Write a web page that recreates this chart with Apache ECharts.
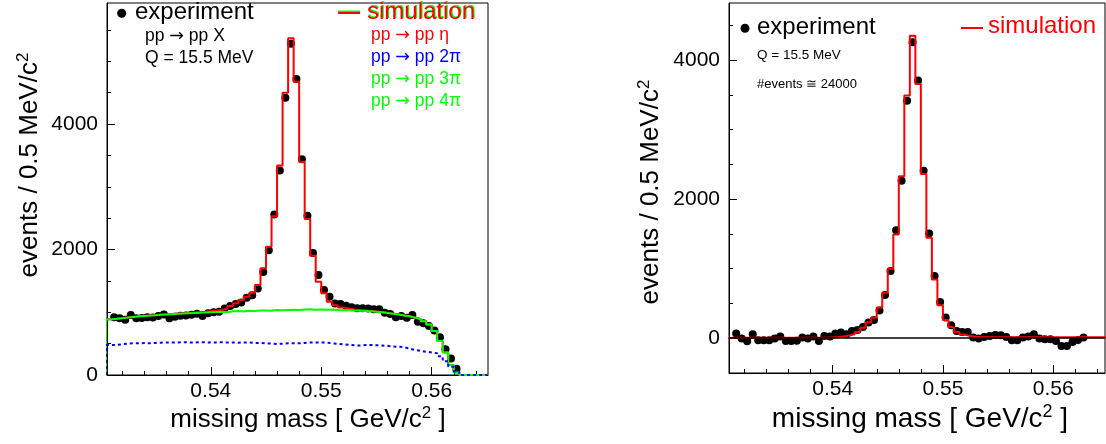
<!DOCTYPE html>
<html><head><meta charset="utf-8">
<script src="https://cdn.jsdelivr.net/npm/echarts@6/dist/echarts.min.js"></script>
<style>html,body{margin:0;padding:0;background:#fff}#c{width:1106px;height:444px}</style>
</head><body><div id="c"></div><script>
// ---- data (bins of 0.5 MeV; first bin left edge 0.5305 GeV) ----
const BIN_START = 0.5305;
const BIN_W = 0.0005;
const xTicksMajor = [0.54, 0.55, 0.56];
const xTicksMinor = [0.532,0.534,0.536,0.538,0.542,0.544,0.546,0.548,0.552,0.554,0.556,0.558,0.562,0.564];
const yTicksMajor = [0, 2000, 4000];
const yTicksMinorLeft = [500,1000,1500,2500,3000,3500,4500,5000,5500];
const yTicksMinorRight = [-500,500,1000,1500,2500,3000,3500,4500];

const leftExperiment = [null,920,905,880,955,905,910,920,915,940,965,905,930,945,950,960,975,940,985,1000,1010,1060,1100,1130,1155,1230,1270,1380,1640,1990,2560,3260,4420,5280,4720,3440,2540,1945,1594,1355,1248,1140,1130,1105,1080,1063,1063,1060,1047,1047,993,972,920,940,913,956,850,824,781,710,600,409,263,100,null,null,null,null,null];
const leftSimTotal = [888,897,907,917,927,937,944,950,956,963,968,974,980,986,992,998,1003,1009,1016,1025,1040,1055,1100,1145,1195,1248,1312,1435,1700,2045,2530,3340,4500,5367,4675,3395,2485,1900,1488,1302,1169,1110,1075,1062,1045,1036,1029,1022,1013,1004,993,980,967,952,937,917,892,857,806,701,541,361,161,41,0,0,0,0,0];
const leftSimMultiPi = [886,895,905,915,925,935,942,948,953,960,965,970,975,980,985,990,993,996,1000,1003,1008,1000,1015,1020,1012,1025,1022,1028,1030,1026,1035,1033,1038,1042,1036,1045,1048,1042,1046,1040,1043,1038,1033,1036,1028,1024,1020,1015,1008,1000,990,978,965,950,935,915,890,855,805,700,540,360,160,40,0,0,0,0,0];
const leftSim2Pi = [478,480,490,500,505,505,510,505,512,515,520,518,520,522,520,518,522,520,518,520,522,518,520,515,518,520,510,512,505,500,495,500,505,508,505,512,518,520,518,515,505,498,490,480,475,470,478,480,475,470,465,455,450,445,420,400,385,370,360,345,300,220,130,55,0,0,0,0,0];

const rightExperiment = [null,67,-5,-43,57,-29,-29,-29,-5,24,-40,-40,-35,10,-5,24,-40,33,24,67,81,57,105,119,160,225,263,400,621,965,1553,2266,3413,4255,3704,2409,1506,893,520,297,186,105,91,91,10,-5,19,33,48,43,19,-29,-29,10,24,57,-5,-15,-15,-40,-110,-110,-53,-24,10,null,null,null,null];
const rightSimEta = [8,8,8,8,8,8,8,8,8,8,8,8,8,8,8,8,8,8,12,16,25,38,58,90,150,225,297,440,655,1000,1491,2328,3489,4350,3657,2361,1444,846,473,263,160,90,52,32,22,14,14,14,14,14,14,14,14,14,14,14,14,14,14,14,14,14,14,14,14,14,14,14,14];

// ---- helpers ----
const FONT = '"Liberation Sans", Arial, Helvetica, sans-serif';
const ARROW_FONT = '"DejaVu Sans", "Liberation Sans", sans-serif';
const GREEN = '#00ff00';
function histSteps(vals){
  const pts = [[BIN_START, 0]];
  vals.forEach((v,i)=>{ const a = BIN_START + i*BIN_W; pts.push([a, v], [a + BIN_W, v]); });
  pts.push([BIN_START + vals.length*BIN_W, 0]);
  return pts;
}
function points(vals){
  const out = [];
  vals.forEach((v,i)=>{ if (v !== null) out.push([BIN_START + (i+0.5)*BIN_W, v]); });
  return out;
}
function xAxes(grid, min, max){
  return [
    {type:'value', gridIndex:grid, min:min, max:max, position:'bottom',
     axisLine:{onZero:false, lineStyle:{color:'#000', width:1}},
     axisTick:{inside:true, length:8, customValues:xTicksMajor, lineStyle:{color:'#000', width:1}},
     axisLabel:{customValues:xTicksMajor, formatter:v=>v.toFixed(2), fontSize:21, color:'#000', fontFamily:FONT, margin:6},
     splitLine:{show:false}},
    {type:'value', gridIndex:grid, min:min, max:max, position:'bottom',
     axisLine:{show:false, onZero:false},
     axisTick:{inside:true, length:4, customValues:xTicksMinor, lineStyle:{color:'#000', width:1}},
     axisLabel:{show:false}, splitLine:{show:false}}
  ];
}
function yAxes(grid, min, max, minor){
  return [
    {type:'value', gridIndex:grid, min:min, max:max, position:'left',
     axisLine:{show:true, onZero:false, lineStyle:{color:'#000', width:1}},
     axisTick:{show:true, inside:true, length:8, customValues:yTicksMajor, lineStyle:{color:'#000', width:1}},
     axisLabel:{customValues:yTicksMajor, formatter:v=>String(Math.round(v)), fontSize:21, color:'#000', fontFamily:FONT, margin:9},
     splitLine:{show:false}},
    {type:'value', gridIndex:grid, min:min, max:max, position:'left',
     axisLine:{show:false, onZero:false},
     axisTick:{show:true, inside:true, length:4, customValues:minor, lineStyle:{color:'#000', width:1}},
     axisLabel:{show:false}, splitLine:{show:false}}
  ];
}
function stepSeries(vals, xi, yi, color, dashed){
  return {type:'line', xAxisIndex:xi, yAxisIndex:yi, data:histSteps(vals), symbol:'none', animation:false,
    lineStyle:{color:color, width:2, type: dashed ? [3,3] : 'solid'}, silent:true};
}
function txt(x, y, s, size, color){
  return {type:'text', x:x, y:y, silent:true,
    style:{text:s, fontSize:size, fontFamily:FONT, fill:color, align:'left', verticalAlign:'middle'}};
}
// text with a reaction arrow (arrow glyph taken from DejaVu Sans, like the ROOT symbol font)
function reaction(x, y, rhs, size, color){
  return {type:'text', x:x, y:y, silent:true,
    style:{text:'{t|pp }{a|\u2192}{t| pp ' + rhs + '}', align:'left', verticalAlign:'middle', fill:color,
      rich:{t:{fontSize:size, fontFamily:FONT, fill:color, lineHeight:size+2},
            a:{fontSize:size, fontFamily:ARROW_FONT, fill:color, lineHeight:size+2}}}};
}
function richTitle(x, y, main, tail, rot, size){
  const fs = size || 26;
  return {type:'text', x:x, y:y, rotation:rot||0, silent:true,
    style:{text:'{m|' + main + '}{s|2}' + (tail ? '{m|' + tail + '}' : ''),
      align:'center', verticalAlign:'middle', fill:'#000', fontFamily:FONT,
      rich:{m:{fontSize:fs, fontFamily:FONT, fill:'#000', lineHeight:fs+4},
            s:{fontSize:Math.round(fs*0.65), fontFamily:FONT, fill:'#000', lineHeight:Math.round(fs*0.54), verticalAlign:'top'}}}};
}

const chart = echarts.init(document.getElementById('c'), null, {renderer:'canvas'});
const option = {
  animation:false,
  backgroundColor:'#fff',
  grid:[
    {left:107, top:3, width:381, height:372, show:true, borderColor:'#000', borderWidth:1, containLabel:false},
    {left:729, top:3, width:376, height:370, show:true, borderColor:'#000', borderWidth:1, containLabel:false}
  ],
  xAxis: xAxes(0, 0.5306, 0.5651).concat(xAxes(1, 0.5306, 0.5647)),
  yAxis: yAxes(0, 0, 5930, yTicksMinorLeft).concat(yAxes(1, -500, 4820, yTicksMinorRight)),
  series:[
    stepSeries(leftSimTotal, 0, 0, '#ff0000', false),
    stepSeries(leftSimMultiPi, 0, 0, GREEN, false),
    stepSeries(leftSim2Pi, 0, 0, '#0000ff', true),
    {type:'scatter', xAxisIndex:0, yAxisIndex:0, data:points(leftExperiment), symbol:'circle', symbolSize:8,
     itemStyle:{color:'#000', opacity:1}, silent:true, animation:false},
    {type:'line', xAxisIndex:2, yAxisIndex:2, data:histSteps(rightSimEta), symbol:'none', animation:false, silent:true,
     lineStyle:{color:'#ff0000', width:2},
     markLine:{silent:true, symbol:'none', animation:false, label:{show:false},
       lineStyle:{color:'#000', width:1.5, type:'solid'}, data:[{yAxis:0}]}},
    {type:'scatter', xAxisIndex:2, yAxisIndex:2, data:points(rightExperiment), symbol:'circle', symbolSize:8,
     itemStyle:{color:'#000', opacity:1}, silent:true, animation:false}
  ],
  graphic:[
    // left legend
    {type:'circle', shape:{cx:121.7, cy:13.3, r:4.5}, style:{fill:'#000'}, silent:true},
    txt(135, 12.6, 'experiment', 24, '#000'),
    reaction(145, 36, 'X', 17.5, '#000'),
    txt(145, 58, 'Q = 15.5 MeV', 17.5, '#000'),
    {type:'line', shape:{x1:338, y1:11.5, x2:360, y2:11.5}, style:{stroke:GREEN, lineWidth:2}, silent:true},
    {type:'line', shape:{x1:338, y1:13, x2:360, y2:13}, style:{stroke:'#ff0000', lineWidth:2}, silent:true},
    txt(368, 11.6, 'simulation', 24, GREEN),
    txt(367, 12.6, 'simulation', 24, '#ff0000'),
    reaction(371, 35.6, '\u03b7', 17.5, '#ff0000'),
    reaction(371, 57.6, '2\u03c0', 17.5, '#0000ff'),
    reaction(371, 79.6, '3\u03c0', 17.5, GREEN),
    reaction(371, 101.6, '4\u03c0', 17.5, GREEN),
    // right legend
    {type:'circle', shape:{cx:745, cy:28.3, r:4.5}, style:{fill:'#000'}, silent:true},
    txt(757, 26.9, 'experiment', 24, '#000'),
    {type:'line', shape:{x1:961, y1:28, x2:983, y2:28}, style:{stroke:'#ff0000', lineWidth:2}, silent:true},
    txt(988, 26.7, 'simulation', 24, '#ff0000'),
    txt(757, 55.3, 'Q = 15.5 MeV', 13.5, '#000'),
    txt(757, 84, '#events \u2245 24000', 13, '#000'),
    // axis titles
    richTitle(308, 420, 'missing mass [ GeV/c', ' ]', 0, 26),
    richTitle(920, 419, 'missing mass [ GeV/c', ' ]', 0, 28),
    richTitle(30, 165, 'events / 0.5 MeV/c', '', Math.PI/2, 26),
    richTitle(651, 192, 'events / 0.5 MeV/c', '', Math.PI/2, 26)
  ]
};
chart.setOption(option);
</script></body></html>
